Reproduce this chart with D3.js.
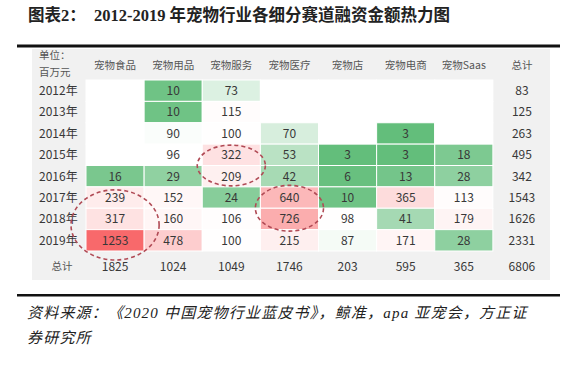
<!DOCTYPE html>
<html><head><meta charset="utf-8">
<script src="https://cdn.jsdelivr.net/npm/d3@7"></script>
<style>
html,body{margin:0;padding:0;background:#fff;}
svg{display:block;}
</style></head>
<body>
<svg id="chart" width="578" height="366"></svg>
<script>
const titleText = "图表2：  2012-2019 年宠物行业各细分赛道融资金额热力图";
const sourceLines = ["资料来源：《2020 中国宠物行业蓝皮书》，鲸准，apa 亚宠会，方正证", "券研究所"];
const categories = ["宠物食品","宠物用品","宠物服务","宠物医疗","宠物店","宠物电商","宠物Saas"];
const totalLabel = "总计";
const years = ["2012年","2013年","2014年","2015年","2016年","2017年","2018年","2019年"];
// values per year, per category (null = no funding)
const v2012 = [null, 10, 73, null, null, null, null];
const v2013 = [null, 10, 115, null, null, null, null];
const v2014 = [null, 90, 100, 70, null, 3, null];
const v2015 = [null, 96, 322, 53, 3, 3, 18];
const v2016 = [16, 29, 209, 42, 6, 13, 28];
const v2017 = [239, 152, 24, 640, 10, 365, 113];
const v2018 = [317, 160, 106, 726, 98, 41, 179];
const v2019 = [1253, 478, 100, 215, 87, 171, 28];
const yearTotals = [83, 125, 263, 495, 342, 1543, 1626, 2331];
const categoryTotals = [1825, 1024, 1049, 1746, 203, 595, 365];
const grandTotal = 6806;
const highlights = [
  {col:"宠物服务", from:"2015年", to:"2016年"},
  {col:"宠物医疗", from:"2017年", to:"2018年"},
  {col:"宠物食品", from:"2017年", to:"2019年"}
];

const rows = [v2012,v2013,v2014,v2015,v2016,v2017,v2018,v2019];
const cells = [];
rows.forEach((r,i)=>r.forEach((v,j)=>cells.push({year:years[i], cat:categories[j], value:v})));
const vals = cells.filter(d=>d.value!=null).map(d=>d.value);

const svg = d3.select("#chart");
const sans = "'Noto Sans CJK SC','Noto Sans',sans-serif";

const cols = categories.concat([totalLabel]);
const x = d3.scaleBand().domain(cols).range([86, 551]);
const y = d3.scaleBand().domain(years).range([80, 251]);
const color = d3.scaleLinear()
  .domain([d3.min(vals), d3.median(vals), d3.max(vals)])
  .range(["#63BE7B","#FFFFFF","#F8696B"]);

// title
svg.append("text").attr("x",28).attr("y",21)
  .attr("font-family","'Liberation Serif','Noto Sans CJK SC',serif")
  .attr("font-size",16.5).attr("font-weight","bold").attr("fill","#222")
  .attr("xml:space","preserve")
  .text(titleText);
svg.append("rect").attr("x",17).attr("y",44.5).attr("width",543).attr("height",3).attr("fill","#111");

// panel
svg.append("rect").attr("x",32).attr("y",49).attr("width",518).attr("height",231).attr("fill","#f1f1f1");
// data area
svg.append("rect").attr("x",x(categories[0])).attr("y",y.range()[0])
  .attr("width",x(totalLabel)-x(categories[0])).attr("height",y.range()[1]-y.range()[0]).attr("fill","#fff");

// cells
svg.append("g").selectAll("rect").data(cells).join("rect")
  .attr("x",d=>x(d.cat)).attr("y",d=>y(d.year))
  .attr("width",x.bandwidth()).attr("height",y.bandwidth())
  .attr("fill",d=>d.value==null?"#fff":color(d.value))
  .attr("stroke","#fff").attr("stroke-width",1);

const numFont = 12;
svg.append("g").selectAll("text").data(cells.filter(d=>d.value!=null)).join("text")
  .attr("x",d=>x(d.cat)+x.bandwidth()/2).attr("y",d=>y(d.year)+y.bandwidth()/2)
  .attr("dy","0.36em").attr("text-anchor","middle")
  .attr("font-family",sans).attr("font-size",numFont).attr("fill","#383838")
  .text(d=>d.value);

// headers
svg.append("g").selectAll("text").data(cols).join("text")
  .attr("x",d=>x(d)+x.bandwidth()/2).attr("y",65)
  .attr("dy","0.36em").attr("text-anchor","middle")
  .attr("font-family",sans).attr("font-size",10.5).attr("fill","#555")
  .text(d=>d);
svg.append("text").attr("x",39).attr("y",59).attr("font-family",sans).attr("font-size",10.5).attr("fill","#555").text("单位：");
svg.append("text").attr("x",39).attr("y",76).attr("font-family",sans).attr("font-size",10.5).attr("fill","#555").text("百万元");

// row labels
svg.append("g").selectAll("text").data(years).join("text")
  .attr("x",39).attr("y",d=>y(d)+y.bandwidth()/2).attr("dy","0.36em")
  .attr("font-family",sans).attr("font-size",numFont).attr("fill","#383838")
  .text(d=>d);
// year totals
svg.append("g").selectAll("text").data(yearTotals).join("text")
  .attr("x",x(totalLabel)+x.bandwidth()/2).attr("y",(d,i)=>y(years[i])+y.bandwidth()/2).attr("dy","0.36em")
  .attr("text-anchor","middle").attr("font-family",sans).attr("font-size",numFont).attr("fill","#383838")
  .text(d=>d);
// totals row
const totY = y.range()[1] + 15.5;
svg.append("text").attr("x",62).attr("y",totY).attr("dy","0.36em").attr("text-anchor","middle")
  .attr("font-family",sans).attr("font-size",10.5).attr("fill","#555").text(totalLabel);
svg.append("g").selectAll("text").data(categoryTotals.concat([grandTotal])).join("text")
  .attr("x",(d,i)=>x(cols[i])+x.bandwidth()/2).attr("y",totY).attr("dy","0.36em")
  .attr("text-anchor","middle").attr("font-family",sans).attr("font-size",numFont).attr("fill","#383838")
  .text(d=>d);

// highlight ellipses
const rxPad = [5,5,15], ryPad = [-1,1.5,3], cyOff=[0,0,6];
svg.append("g").selectAll("ellipse").data(highlights).join("ellipse")
  .attr("cx",d=>x(d.col)+x.bandwidth()/2)
  .attr("cy",(d,i)=>(y(d.from)+y(d.to)+y.bandwidth())/2+cyOff[i])
  .attr("rx",(d,i)=>x.bandwidth()/2+rxPad[i])
  .attr("ry",(d,i)=>(y(d.to)+y.bandwidth()-y(d.from))/2+ryPad[i])
  .attr("fill","none").attr("stroke","#b04a55").attr("stroke-width",1.6)
  .attr("stroke-dasharray","4,3");

// bottom rule and source
svg.append("rect").attr("x",17).attr("y",294).attr("width",543).attr("height",2.5).attr("fill","#111");
svg.append("g").selectAll("text").data(sourceLines).join("text")
  .attr("x",27).attr("y",(d,i)=>318+i*25)
  .attr("font-family","'Liberation Serif','Noto Sans CJK SC',serif")
  .attr("font-style","italic").attr("font-size",15).attr("fill","#222")
  .attr("letter-spacing",1.2)
  .text(d=>d);
</script>
</body></html>
